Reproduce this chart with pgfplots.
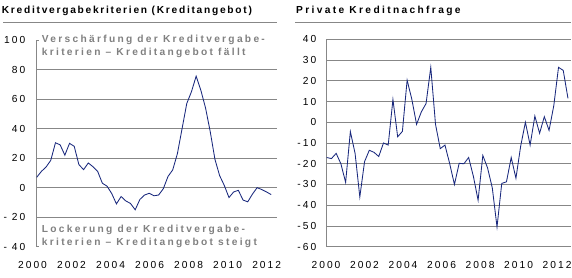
\documentclass[border=0pt]{standalone}
\usepackage{pgfplots}
\pgfplotsset{compat=1.18}
\usepackage{fontspec}
\setmainfont{Liberation Sans}[LetterSpace=20]
\newfontfamily\annfont{Liberation Sans}[LetterSpace=22.5]
\definecolor{navy}{RGB}{25,40,125}
\definecolor{gridgray}{RGB}{135,135,135}
\definecolor{txtgray}{RGB}{128,128,128}
\pgfplotstableread{
x y
2000.00 7
2000.25 11
2000.50 14
2000.75 18.5
2001.00 30.4
2001.25 29
2001.50 22
2001.75 30
2002.00 28
2002.25 15.6
2002.50 12.2
2002.75 16.7
2003.00 14.2
2003.25 11
2003.50 3
2003.75 1
2004.00 -4
2004.25 -11
2004.50 -6
2004.75 -9
2005.00 -10.7
2005.25 -15
2005.50 -8
2005.75 -5
2006.00 -3.8
2006.25 -5.5
2006.50 -5
2006.75 -0.7
2007.00 7.6
2007.25 12
2007.50 23
2007.75 40
2008.00 57
2008.25 65
2008.50 75.5
2008.75 66
2009.00 54
2009.25 38
2009.50 19.3
2009.75 8.2
2010.00 1.5
2010.25 -6.7
2010.50 -2.9
2010.75 -1.8
2011.00 -8.4
2011.25 -9.6
2011.50 -4.4
2011.75 0
2012.00 -1.3
2012.25 -2.9
2012.50 -4.7
}\angebot
\pgfplotstableread{
x y
2000.00 -17
2000.25 -17.5
2000.50 -15
2000.75 -20
2001.00 -29
2001.25 -4.5
2001.50 -15
2001.75 -36
2002.00 -19
2002.25 -13.5
2002.50 -14.5
2002.75 -16.5
2003.00 -10
2003.25 -11
2003.50 11
2003.75 -7
2004.00 -4.4
2004.25 20.3
2004.50 11
2004.75 -1
2005.00 5
2005.25 9
2005.50 26.5
2005.75 -1
2006.00 -12.7
2006.25 -11
2006.50 -20
2006.75 -30
2007.00 -19.8
2007.25 -20
2007.50 -17
2007.75 -26
2008.00 -37.6
2008.25 -16
2008.50 -22
2008.75 -31.6
2009.00 -50.5
2009.25 -29.5
2009.50 -28.7
2009.75 -17
2010.00 -27
2010.25 -11.5
2010.50 0
2010.75 -11
2011.00 3
2011.25 -5.3
2011.50 2.7
2011.75 -3.9
2012.00 8
2012.25 26.5
2012.50 25
2012.75 11.5
}\nachfrage
\begin{document}
\begin{tikzpicture}
\path[use as bounding box] (0pt,0pt) rectangle (572pt,-277pt);
\pgfplotsset{
  myaxis/.style={
    scale only axis,
    anchor=north west,
    axis y line*=left,
    axis x line*=bottom,
    x axis line style={draw=none},
    y axis line style={draw=gridgray, line width=0.8pt},
    ymajorgrids,
    grid style={draw=gridgray, line width=0.8pt},
    major tick length=0pt,
    xtick style={draw=none},
    ytick pos=left,
    tick label style={font=\fontsize{10.2}{12}\selectfont, text=black},
    xtick={2000,2002,2004,2006,2008,2010,2012},
    xticklabels={2000,2002,2004,2006,2008,2010,2012},
    clip=false,
  }
}
% Left panel
\begin{axis}[myaxis,
  at={(36.7pt,-40pt)}, width=240.3pt, height=206.7pt,
  xmin=2000, xmax=2012.81, ymin=-40, ymax=100,
  ytick={-20,0,20,40,60,80},
  yticklabels={- 20,0,20,40,60,80},
  extra y ticks={-40,100},
  extra y tick labels={- 40,100},
  extra y tick style={grid=none, major tick length=2.6pt, tick align=inside, ytick style={draw=gridgray, line width=0.8pt}},
  yticklabel style={anchor=east, inner sep=0pt, xshift=-11.2pt},
  xticklabel style={anchor=base, inner sep=0pt, yshift=-22pt, xshift={-4.2pt+1.51pt*\ticknum}},
]
\addplot[navy, line width=0.85pt, mark=none] table[x=x,y=y] {\angebot};
\end{axis}
% Right panel
\begin{axis}[myaxis,
  at={(326.7pt,-39.3pt)}, width=244.3pt, height=207.4pt,
  xmin=2000, xmax=2012.91, ymin=-60, ymax=40,
  ytick={-60,-50,-40,-30,-20,-10,0,10,20,30,40},
  yticklabels={-60,-50,-40,-30,-20,-10,0,10,20,30,40},
  yticklabel style={anchor=east, inner sep=0pt, xshift=-10.2pt},
  xticklabel style={anchor=base, inner sep=0pt, yshift=-22pt, xshift={-0.7pt+0.66pt*\ticknum}},
]
\addplot[navy, line width=0.85pt, mark=none] table[x=x,y=y] {\nachfrage};
\end{axis}
% Titles and separators
\node[anchor=base west, inner sep=0pt, font=\fontsize{10.2}{12}\selectfont\bfseries\addfontfeatures{LetterSpace=17}] at (1.7pt,-13.3pt) {Kreditvergabekriterien (Kreditangebot)};
\node[anchor=base west, inner sep=0pt, font=\fontsize{10.2}{12}\selectfont\bfseries\addfontfeatures{LetterSpace=23}] at (296pt,-13.3pt) {Private Kreditnachfrage};
\draw[gridgray, line width=0.8pt] (3.3pt,-22pt) -- (276.7pt,-22pt);
\draw[gridgray, line width=0.8pt] (295pt,-22pt) -- (571pt,-22pt);
% Annotations
\begin{scope}[every node/.style={anchor=base west, inner sep=0pt, text=txtgray, font=\annfont\fontsize{10.2}{12}\selectfont\bfseries}]
\node at (41.7pt,-42.3pt) {Verschärfung der Kreditvergabe-};
\node at (41.7pt,-55pt) {kriterien – Kreditangebot fällt};
\node at (41.7pt,-232.3pt) {Lockerung der Kreditvergabe-};
\node at (41.7pt,-245pt) {kriterien – Kreditangebot steigt};
\end{scope}
\end{tikzpicture}
\end{document}
